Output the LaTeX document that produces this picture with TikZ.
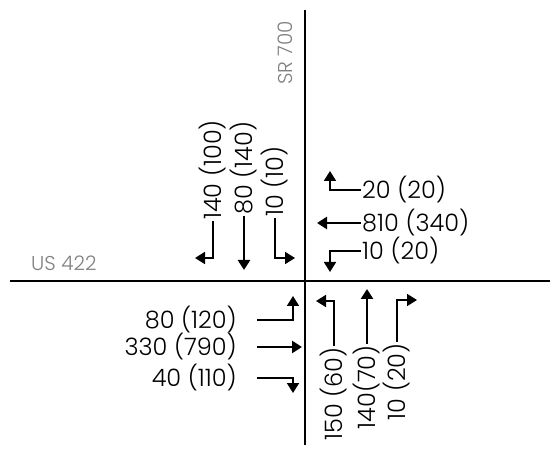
\documentclass[tikz,border=0pt]{standalone}
\usepackage{fontspec}
\setmainfont{Poppins Light}
\usetikzlibrary{arrows.meta}
\begin{document}
\begin{tikzpicture}[x=1pt,y=-1pt,
  road/.style={line width=1.8pt},
  roadname/.style={text=black!50, font=\fontsize{20}{24}\selectfont, inner sep=0pt},
  vol/.style={font=\fontsize{24}{28}\selectfont, inner sep=1pt},
  turnarr/.style={line width=1.8pt, -{Triangle[length=10pt,width=12pt]}},
  thruarr/.style={line width=2.8pt, -{Triangle[length=10pt,width=12pt]}}]
\useasboundingbox (0,0) rectangle (560,449);
% roads
\coordinate (vt) at (305,10); \coordinate (vb) at (305,445);
\coordinate (hl) at (10,281); \coordinate (hr) at (550,281);
\draw[road] (vt) -- (vb);
\draw[road] (hl) -- (hr);
\node[roadname, anchor=base west] (us) at (31,271) {US 422};
\node[roadname, rotate=90, anchor=center] (sr) at (285,53) {SR 700};
% southbound
\node[vol, rotate=90, anchor=west] (sbL) at (213,221) {140 (100)};
\node[vol, rotate=90, anchor=west] (sbT) at (244,216) {80 (140)};
\node[vol, rotate=90, anchor=west] (sbR) at (275,218) {10 (10)};
\coordinate (sbLe) at (195,258);
\coordinate (sbTe) at (244,270);
\coordinate (sbRe) at (295,258);
\draw[turnarr] (sbL.west) |- (sbLe);
\draw[thruarr] (sbT.west) -- (sbTe);
\draw[turnarr] (sbR.west) |- (sbRe);
% westbound
\node[vol, anchor=west] (wbL) at (361,190) {20 (20)};
\node[vol, anchor=west] (wbT) at (361,223) {810 (340)};
\node[vol, anchor=west] (wbR) at (361,251) {10 (20)};
\coordinate (wbLe) at (330,171);
\coordinate (wbTe) at (317,223);
\coordinate (wbRe) at (330,272);
\draw[turnarr] (wbL.west) -| (wbLe);
\draw[thruarr] (wbT.west) -- (wbTe);
\draw[turnarr] (wbR.west) -| (wbRe);
% eastbound
\node[vol, anchor=east] (ebL) at (238,320) {80 (120)};
\node[vol, anchor=east] (ebT) at (238,347) {330 (790)};
\node[vol, anchor=east] (ebR) at (238,378) {40 (110)};
\coordinate (ebLe) at (293,296);
\coordinate (ebTe) at (302,347);
\coordinate (ebRe) at (293,393);
\draw[turnarr, shorten <=19pt] (ebL.east) -| (ebLe);
\draw[thruarr, shorten <=19pt] (ebT.east) -- (ebTe);
\draw[turnarr, shorten <=19pt] (ebR.east) -| (ebRe);
% northbound
\node[vol, rotate=90, anchor=east] (nbL) at (334,346) {150 (60)};
\node[vol, rotate=90, anchor=east] (nbT) at (367,344) {140(70)};
\node[vol, rotate=90, anchor=east] (nbR) at (397,342) {10 (20)};
\coordinate (nbLe) at (316,301);
\coordinate (nbTe) at (367,289);
\coordinate (nbRe) at (417,300);
\draw[turnarr] (nbL.east) |- (nbLe);
\draw[thruarr] (nbT.east) -- (nbTe);
\draw[turnarr] (nbR.east) |- (nbRe);
\end{tikzpicture}
\end{document}
